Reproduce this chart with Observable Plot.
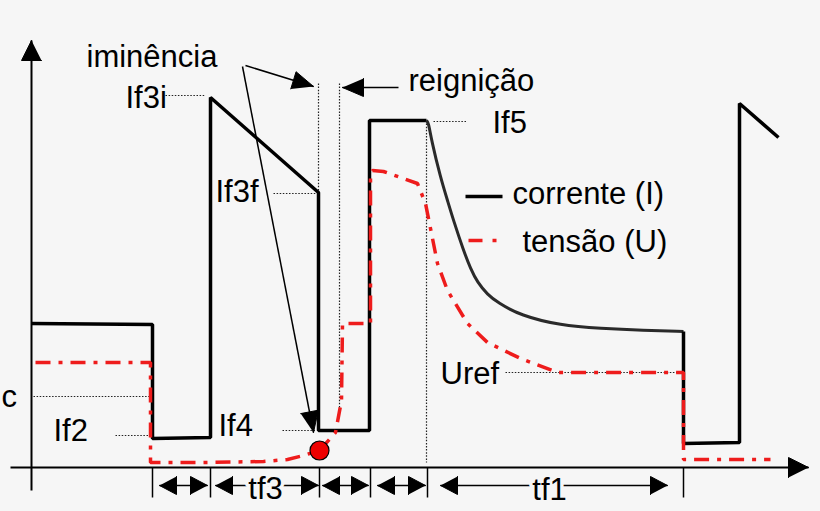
<!DOCTYPE html>
<html><head><meta charset="utf-8">
<script src="https://cdn.jsdelivr.net/npm/d3@7"></script>
<script src="https://cdn.jsdelivr.net/npm/@observablehq/plot@0.6"></script>
<style>
html,body{margin:0;padding:0;background:#f6f6f6;}
#chart svg{display:block;}
</style></head><body><div id="chart"></div>
<script>
// ---- data (t = time units, amplitude units) ----
// current (I): step part
const currentT = [0,121,121,179,179,287,287,338,338,395];
const currentI = [144,143,29,30,370,275,37,37,347,347];
// current decay after If5
const decayT = [395,397,400,409,416,422,432,439,446,456,466,489,529,569,612,652];
const decayI = [347,345,327,290,267,247,217,199,185,173,165,152,142,139,137,136];
// current after tf1
const tailT = [652,652,708,708,747];
const tailI = [136,24,25,364,330];
// voltage (U)
const voltT = [4,119,119,170,232,256,272,288,304,310,311,339,339,341,352,369,386,394,402,406,416,436,456,489,526,652,652,739];
const voltU = [105,105,5,5,6,8,12,17,35,67,144,144,292,297,296,290,284,264,224,204,177,144,125,109,95,95,8,8];
// imminence point
const dotT = [288], dotU = [17];
// horizontal reference levels (dotted)
const levelNames = ["Ic","If2","If3i","If3f","If4","If5","Uref"];
const levelY  = [71, 32, 372, 274, 37, 346, 95];
const levelT1 = [2, 84, 134, 242, 251, 402, 474];
const levelT2 = [119,119,174, 284, 284, 435, 649];
// vertical reference lines (dotted)
const vlineT = [287, 308, 395];
const vlineTop = [384, 384, 347];
const vlineBottom = [275, 60, 5];
// time tick marks
const tickT = [121, 179, 288, 339, 396, 652];
// interval spans (double arrows)
const spanStart = [128, 184, 291, 346, 409];
const spanEnd   = [176, 287, 337, 394, 636];
const spanLevel = -18;
// annotation arrows
const arrowFromT = [214, 211, 367];
const arrowFromU = [402, 401, 380];
const arrowToT   = [282, 282, 311];
const arrowToU   = [381, 35, 380];
// labels
const labelText = ["iminência","If3i","If3f","If2","If4","reignição","If5","corrente (I)","tensão (U)","Uref"];
const labelT    = [55, 94, 184, 22, 187, 377, 461, 481, 491, 409];
const labelU    = [401, 360, 266, 27, 32, 377, 335, 264, 216, 84];
const spanLabels = ["tf3","tf1"];
const spanLabelT = [234, 518];
const spanLabelU = [-31, -32];
const cutLabel = ["c"], cutLabelT = [-30], cutLabelU = [61];
// legend
const legendNames = ["corrente (I)", "tensão (U)"];
const legendT1 = [434, 437], legendT2 = [471, 465], legendU = [271, 227];

// ---- build tables ----
const BG = "#f6f6f6";
const RED = "#ee1c1c";
const zip = (xs, ys) => xs.map((x, i) => ({x, y: ys[i]}));
const current = zip(currentT, currentI);
const decay = zip(decayT, decayI);
const tail = zip(tailT, tailI);
const volt = zip(voltT, voltU);
const levels = levelNames.map((n, i) => ({n, y: levelY[i], x1: levelT1[i], x2: levelT2[i]}));
const vlines = vlineT.map((x, i) => ({x, y1: vlineTop[i], y2: vlineBottom[i]}));
const spans = spanStart.map((s, i) => ({x1: s, x2: spanEnd[i], y: spanLevel}));
const arrows = arrowFromT.map((x, i) => ({x1: x, y1: arrowFromU[i], x2: arrowToT[i], y2: arrowToU[i]}));
const axes = [{x1: 0, y1: -23, x2: 0, y2: 427}, {x1: -21, y1: 0, x2: 777, y2: 0}];

function tri(id, x1, y1, x2, y2, len, hw) {
  const dx = x2 - x1, dy = y2 - y1, d = Math.hypot(dx, dy), ux = dx / d, uy = dy / d;
  const bx = x2 - len * ux, by = y2 - len * uy;
  return [{id, x: x2, y: y2}, {id, x: bx - hw * uy, y: by + hw * ux}, {id, x: bx + hw * uy, y: by - hw * ux}];
}
let heads = [];
axes.forEach((a, i) => heads.push(...tri("ax" + i, a.x1, a.y1, a.x2, a.y2, 20, 10)));
arrows.forEach((a, i) => heads.push(...tri("ar" + i, a.x1, a.y1, a.x2, a.y2, 21, 9)));
spans.forEach((s, i) => {
  heads.push(...tri("sl" + i, s.x2, s.y, s.x1, s.y, 17, 9));
  heads.push(...tri("sr" + i, s.x1, s.y, s.x2, s.y, 17, 9));
});

const font = {fontFamily: "Liberation Sans, Arial, sans-serif", fontSize: 31, fill: "black"};

const chart = Plot.plot({
  width: 820, height: 511, margin: 0,
  x: {domain: [-31, 789], axis: null},
  y: {domain: [-44, 467], axis: null},
  style: {background: BG},
  marks: [
    // dotted guides
    Plot.link(levels, {x1: "x1", x2: "x2", y1: "y", y2: "y", stroke: "#222", strokeWidth: 1.2, strokeDasharray: "1.5,1.6"}),
    Plot.link(vlines, {x1: "x", x2: "x", y1: "y1", y2: "y2", stroke: "#222", strokeWidth: 1.2, strokeDasharray: "1.5,1.6"}),
    // axes
    Plot.link(axes, {x1: "x1", y1: "y1", x2: "x2", y2: "y2", stroke: "black", strokeWidth: 2}),
    // ticks
    Plot.link(tickT, {x1: d => d, x2: d => d, y1: 0, y2: -30, stroke: "black", strokeWidth: 1.5}),
    // spans
    Plot.link(spans, {x1: "x1", x2: "x2", y1: "y", y2: "y", stroke: "black", strokeWidth: 1.5}),
    // annotation arrows
    Plot.link(arrows, {x1: "x1", y1: "y1", x2: "x2", y2: "y2", stroke: "black", strokeWidth: 1.5}),
    // current
    Plot.line(current, {x: "x", y: "y", stroke: "black", strokeWidth: 3.5, strokeLinejoin: "miter", strokeLinecap: "butt"}),
    Plot.line(decay, {x: "x", y: "y", curve: "basis", stroke: "#2a2a2a", strokeWidth: 3, strokeLinecap: "butt"}),
    Plot.line(tail, {x: "x", y: "y", stroke: "black", strokeWidth: 3.5, strokeLinejoin: "miter", strokeLinecap: "butt"}),
    // voltage
    Plot.line(volt, {x: "x", y: "y", stroke: RED, strokeWidth: 3.5, strokeDasharray: "15,8,4,8", strokeLinejoin: "miter", strokeLinecap: "butt"}),
    Plot.dot(dotT.map((t, i) => ({x: t, y: dotU[i]})), {x: "x", y: "y", r: 9.5, fill: "#ee0000", stroke: "black", strokeWidth: 1.2}),
    // arrowheads
    Plot.line(heads, {x: "x", y: "y", z: "id", fill: "black", stroke: "black", strokeWidth: 1, strokeLinejoin: "miter"}),
    // legend
    Plot.link([0], {x1: legendT1[0], x2: legendT2[0], y1: legendU[0], y2: legendU[0], stroke: "black", strokeWidth: 3.5}),
    Plot.link([0], {x1: legendT1[1], x2: legendT2[1], y1: legendU[1], y2: legendU[1], stroke: RED, strokeWidth: 3.5, strokeDasharray: "14,10,4,10"}),
    // labels
    Plot.text(labelText, {x: (d, i) => labelT[i], y: (d, i) => labelU[i], text: d => d, textAnchor: "start", lineAnchor: "bottom", ...font}),
    Plot.text(spanLabels, {x: (d, i) => spanLabelT[i], y: (d, i) => spanLabelU[i], text: d => d, textAnchor: "middle", lineAnchor: "bottom", stroke: BG, strokeWidth: 7, ...font}),
    Plot.text(cutLabel, {x: (d, i) => cutLabelT[i], y: (d, i) => cutLabelU[i], text: d => d, textAnchor: "start", lineAnchor: "bottom", ...font})
  ]
});
document.getElementById("chart").appendChild(chart);
</script></body></html>
